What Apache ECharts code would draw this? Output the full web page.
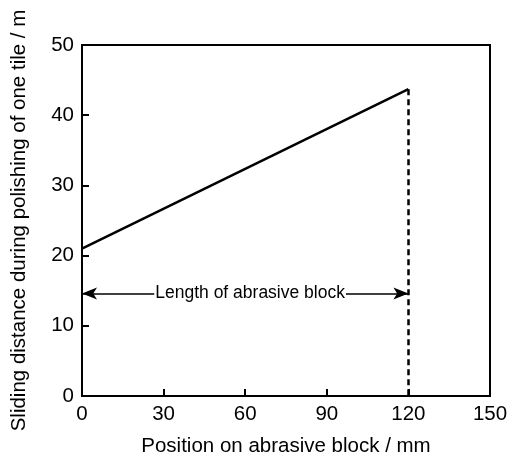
<!DOCTYPE html>
<html>
<head>
<meta charset="utf-8">
<script src="https://cdn.jsdelivr.net/npm/echarts@6/dist/echarts.min.js"></script>
<style>html,body{margin:0;padding:0;background:#fff}#c{width:515px;height:462px}</style>
</head>
<body>
<div id="c"></div>
<script>
var xTicks = [0, 30, 60, 90, 120, 150];
var yTicks = [0, 10, 20, 30, 40, 50];
var linePos = [0, 120];
var lineDist = [21, 43.7];
var blockEnd = 120;
var arrowLevel = 14.6;
var arrowLabel = 'Length of abrasive block';
var xTitle = 'Position on abrasive block / mm';
var yTitle = 'Sliding distance during polishing of one tile / m';

var font = 'Liberation Sans, Arial, sans-serif';
var labelX = 61.8;
var chart = echarts.init(document.getElementById('c'), null, {renderer: 'canvas'});
var axisCommon = {
  axisLine: {show: true, lineStyle: {color: '#000', width: 2}},
  axisTick: {show: true, inside: true, length: 7, lineStyle: {color: '#000', width: 2}},
  splitLine: {show: false},
  axisLabel: {color: '#000', fontSize: 20.5, fontFamily: font, margin: 8}
};
chart.setOption({
  animation: false,
  backgroundColor: '#fff',
  grid: {left: 82, right: 25, top: 45, bottom: 63, show: true, borderColor: '#000', borderWidth: 2, backgroundColor: 'transparent'},
  xAxis: Object.assign({}, axisCommon, {
    type: 'value', min: xTicks[0], max: xTicks[xTicks.length - 1], interval: 30,
    name: xTitle, nameLocation: 'middle', nameGap: 40,
    nameTextStyle: {color: '#000', fontSize: 20.5, fontFamily: font}
  }),
  yAxis: Object.assign({}, axisCommon, {
    type: 'value', min: yTicks[0], max: yTicks[yTicks.length - 1], interval: 10,
    name: yTitle, nameLocation: 'middle', nameGap: 52,
    nameTextStyle: {color: '#000', fontSize: 20.5, fontFamily: font}
  }),
  series: [
    {
      type: 'line',
      data: linePos.map(function (x, i) { return [x, lineDist[i]]; }),
      symbol: 'none',
      lineStyle: {color: '#000', width: 2.5},
      z: 2,
      markLine: {
        silent: true,
        animation: false,
        label: {show: false},
        data: [
          [
            {coord: [blockEnd, lineDist[lineDist.length - 1]], symbol: 'none', lineStyle: {type: [6, 4], width: 2.5, color: '#000'}},
            {coord: [blockEnd, 0], symbol: 'none'}
          ],
          [
            {coord: [linePos[0], arrowLevel], symbol: 'arrow', symbolSize: [9, 15], lineStyle: {type: 'solid', width: 1.5, color: '#000'}},
            {coord: [blockEnd, arrowLevel], symbol: 'arrow', symbolSize: [9, 15]}
          ]
        ]
      }
    },
    {
      type: 'scatter',
      data: [[labelX, arrowLevel]],
      symbolSize: 1,
      itemStyle: {color: '#fff', opacity: 1},
      z: 10,
      silent: true,
      label: {show: true, position: 'inside', formatter: arrowLabel, color: '#000', textBorderWidth: 0, fontSize: 17.5, fontFamily: font,
              backgroundColor: '#fff', padding: [1, 1]}
    }
  ]
});
</script>
</body>
</html>
